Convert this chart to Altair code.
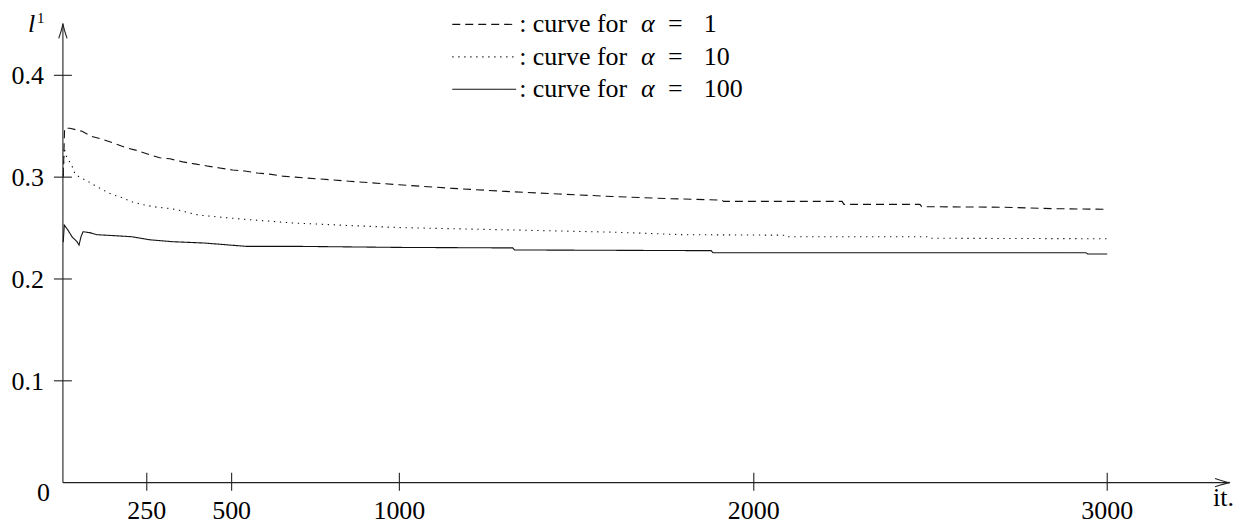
import altair as alt
import pandas as pd

# ---------------- data ----------------
series_names = ["alpha=1", "alpha=10", "alpha=100"]
legend_numbers = ["1", "10", "100"]

it_a1 = [1, 5, 21, 57, 86, 119, 155, 187, 223, 259, 288, 318, 356, 391, 427, 465,
         503, 539, 577, 613, 652, 690, 850, 1000, 1150, 1300, 1450, 1600, 1750,
         1910, 1915, 2250, 2255, 2470, 2475, 2700, 2850, 2990, 3000]
val_a1 = [0.300, 0.348, 0.348, 0.345, 0.340, 0.337, 0.333, 0.329, 0.326, 0.322,
          0.319, 0.318, 0.315, 0.313, 0.311, 0.309, 0.307, 0.306, 0.304, 0.303,
          0.301, 0.300, 0.296, 0.2925, 0.289, 0.286, 0.2835, 0.281, 0.279,
          0.2775, 0.2762, 0.2762, 0.2733, 0.2733, 0.271, 0.2705, 0.269, 0.2685, 0.266]

it_a10 = [1, 4, 8, 20, 30, 36, 50, 74, 89, 116, 146, 176, 208, 245, 280, 310, 339,
          403, 524, 682, 850, 1000, 1200, 1400, 1600, 1800, 2090, 2095, 2490, 2495, 3000]
val_a10 = [0.302, 0.329, 0.322, 0.315, 0.309, 0.303, 0.300, 0.296, 0.293, 0.288,
           0.283, 0.280, 0.2755, 0.2725, 0.2705, 0.2695, 0.268, 0.2627, 0.259,
           0.255, 0.2525, 0.2505, 0.249, 0.2475, 0.246, 0.2435, 0.243, 0.2415,
           0.2415, 0.240, 0.2395]

it_a100 = [1, 4, 15, 27, 42, 48, 54, 60, 80, 101, 155, 205, 259, 326, 420, 545,
           705, 1000, 1320, 1325, 1880, 1885, 2940, 2945, 3000]
val_a100 = [0.236, 0.253, 0.248, 0.2415, 0.2366, 0.2333, 0.2415, 0.2464, 0.2455,
            0.2435, 0.2425, 0.2415, 0.2385, 0.2366, 0.2353, 0.232, 0.232, 0.231,
            0.2305, 0.2285, 0.2278, 0.2258, 0.2258, 0.2245, 0.2245]

x_ticks = [250, 500, 1000, 2000, 3000]
x_tick_labels = ["250", "500", "1000", "2000", "3000"]
y_ticks = [0.1, 0.2, 0.3, 0.4]
y_tick_labels = ["0.1", "0.2", "0.3", "0.4"]

rows = []
for name, its, vals in zip(series_names, [it_a1, it_a10, it_a100], [val_a1, val_a10, val_a100]):
    for i, v in zip(its, vals):
        rows.append({"series": name, "it": i, "v": v})
df = pd.DataFrame(rows)

# ---------------- styling / layout ----------------
W, H = 1169, 459
FONT = "Liberation Serif"
FS = 26

xscale = alt.Scale(domain=[0, 250, 500, 1000, 2000, 3000],
                   range=[0, 84, 169, 337, 692, 1046], nice=False, zero=False)
yscale = alt.Scale(domain=[0, 0.45], nice=False, zero=False)
dash_scale = alt.Scale(domain=series_names, range=[[8, 5], [1.3, 4.7], [1, 0]])

one = lambda: alt.Data(values=[{"k": 0}])

lines = alt.Chart(df).mark_line(strokeWidth=1.1, color="#111").encode(
    x=alt.X("it:Q", scale=xscale, axis=None),
    y=alt.Y("v:Q", scale=yscale, axis=None),
    strokeDash=alt.StrokeDash("series:N", scale=dash_scale, legend=None),
)

x_axis = alt.Chart(one()).mark_rule(color="#222", strokeWidth=1.1).encode(
    x=alt.value(0), x2=alt.value(W - 1), y=alt.value(H))
y_axis = alt.Chart(one()).mark_rule(color="#222", strokeWidth=1.1).encode(
    x=alt.value(0), y=alt.value(H), y2=alt.value(0))

arrow_right = alt.Chart(one()).mark_point(
    shape="M -1 -0.28 Q -0.35 -0.05 0 0 Q -0.35 0.05 -1 0.28",
    filled=False, size=900, strokeWidth=1.1, color="#222", opacity=1).encode(
    x=alt.value(W), y=alt.value(H))
arrow_up = alt.Chart(one()).mark_point(
    shape="M -0.28 1 Q -0.05 0.35 0 0 Q 0.05 0.35 0.28 1",
    filled=False, size=900, strokeWidth=1.1, color="#222", opacity=1).encode(
    x=alt.value(0), y=alt.value(-1))

ytick_df = pd.DataFrame({"v": y_ticks, "lab": y_tick_labels})
xtick_df = pd.DataFrame({"it": x_ticks, "lab": x_tick_labels})

y_tick_marks = alt.Chart(ytick_df).mark_rule(color="#222", strokeWidth=1.1).encode(
    y=alt.Y("v:Q", scale=yscale, axis=None), x=alt.value(-9), x2=alt.value(9))
y_tick_text = alt.Chart(ytick_df).mark_text(
    font=FONT, fontSize=FS, align="right", baseline="alphabetic", dy=9).encode(
    y=alt.Y("v:Q", scale=yscale, axis=None), x=alt.value(-19), text="lab:N")

x_tick_marks = alt.Chart(xtick_df).mark_rule(color="#222", strokeWidth=1.1).encode(
    x=alt.X("it:Q", scale=xscale, axis=None), y=alt.value(H - 10), y2=alt.value(H + 8))
x_tick_text = alt.Chart(xtick_df).mark_text(
    font=FONT, fontSize=FS, align="center", baseline="alphabetic").encode(
    x=alt.X("it:Q", scale=xscale, axis=None), y=alt.value(H + 36), text="lab:N")


def label(txt, x, y, size=FS, italic=False, align="left"):
    kw = dict(font=FONT, fontSize=size, align=align, baseline="alphabetic")
    if italic:
        kw["fontStyle"] = "italic"
    return alt.Chart(one()).mark_text(**kw).encode(
        x=alt.value(x), y=alt.value(y), text=alt.value(txt))


extra = [
    label("0", -19.5, 477, align="center"),
    label("it.", 1152, 482),
    label("l", -35, 8, italic=True),
    label("1", -26, -1.5, size=15),
]

legend_layers = []
for i, (name, num) in enumerate(zip(series_names, legend_numbers)):
    ry = i * 32.5
    legend_layers.append(
        alt.Chart(alt.Data(values=[{"series": name}])).mark_rule(strokeWidth=1.1, color="#111").encode(
            x=alt.value(390), x2=alt.value(454), y=alt.value(ry),
            strokeDash=alt.StrokeDash("series:N", scale=dash_scale, legend=None)))
    legend_layers.append(label(": curve for", 457, ry + 8))
    legend_layers.append(label("\u03b1", 579, ry + 8, italic=True))
    legend_layers.append(label("=", 606, ry + 8, size=26))
    legend_layers.append(label(num, 642, ry + 8))

chart = alt.layer(
    lines, x_axis, y_axis, arrow_right, arrow_up,
    y_tick_marks, y_tick_text, x_tick_marks, x_tick_text,
    *extra, *legend_layers,
).properties(
    width=W, height=H,
    autosize=alt.AutoSizeParams(type="none"),
    padding={"left": 55, "top": 16, "right": 10, "bottom": 44},
).configure(font=FONT).configure_text(font=FONT).configure_view(strokeWidth=0)

chart.save("out.html", embed_options={"renderer": "svg", "actions": False})
